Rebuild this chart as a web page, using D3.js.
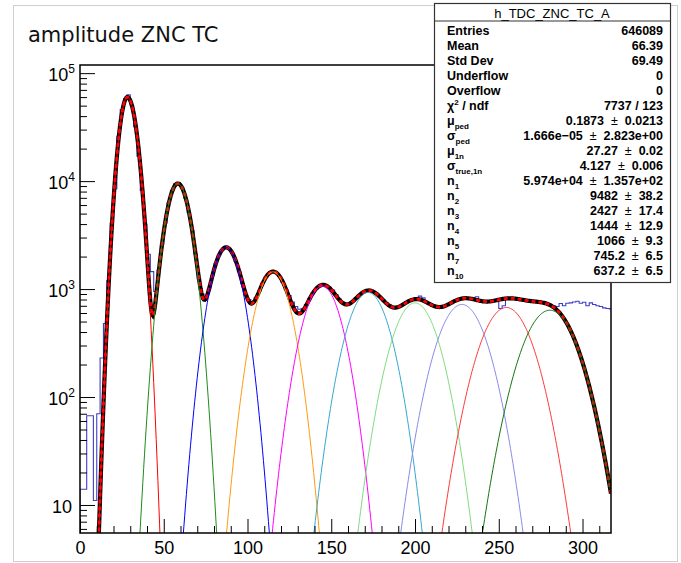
<!DOCTYPE html>
<html>
<head>
<meta charset="utf-8">
<script src="https://cdn.jsdelivr.net/npm/d3@7"></script>
<style>
	body{margin:0;background:#fff;}
	svg{display:block;}
	text{font-family:"Liberation Sans",Arial,sans-serif;}
</style>
</head>
<body>
<script>
//h_TDC_ZNC_TC_A - bin contents, bins of 2 starting at 0
var binWidth = 2;
var counts = [14,14,67,67,11,70,230,480,1200,4100,
	8500,26000,46000,58000,63000,50000,32000,17000,8200,4000,
	2100,1450,950,1500,2600,4100,6300,8200,9500,9700,
	8700,6900,5100,3500,2100,1250,900,880,1000,1330,
	1720,2050,2300,2450,2380,2150,1800,1450,1120,880,
	800,760,830,960,1130,1290,1400,1460,1420,1310,
	1160,990,870,760,690,650,660,720,820,920,
	1010,1070,1090,1080,1040,980,890,810,760,730,
	740,770,830,880,930,960,975,945,900,850,
	790,745,710,690,690,705,730,760,785,800,
	815,860,830,760,735,710,700,700,705,720,
	745,775,800,815,820,815,810,830,850,775,
	760,765,770,780,790,660,700,815,820,815,
	805,795,790,780,770,765,760,750,740,720,
	720,700,690,735,700,740,745,760,770,740,
	755,700,745,720,700,690,670,660,655];

//fitted photoelectron peaks (position, left/right width, height)
var peakMean   = [28.3, 58.4, 87.2, 115.2, 144.6, 172.0, 200.0, 228.0, 254.5, 280.5];
var peakSigmaL = [3.95, 5.85, 7.3, 8.3, 9.2, 10.1, 10.9, 11.7, 12.4, 13.05];
var peakSigmaR = [4.5, 6.0, 7.4, 8.3, 9.2, 10.1, 10.9, 11.7, 12.4, 13.05];
var peakHeight = [60000, 9500, 2430, 1444, 1066, 930, 745, 720, 675, 637];
var peakColors = ["#ff0000","#1b8c1b","#0000ff","#ff9a10","#ff00ff","#33a8d0","#7fdc7f","#8a8ae8","#ff3838","#137513"];

var xTicks = [0, 50, 100, 150, 200, 250, 300];
var yTicks = [10, 100, 1000, 10000, 100000];
var yTickExp = ["", "2", "3", "4", "5"];

//stats box
var statName = ["Entries","Mean","Std Dev","Underflow","Overflow","\u03c7","\u03bc","\u03c3","\u03bc","\u03c3","n","n","n","n","n","n","n"];
var statSub  = ["","","","","","","ped","ped","1n","true,1n","1","2","3","4","5","7","10"];
var statVal  = ["646089","66.39","69.49","0","0","7737 / 123","0.1873","1.666e\u221205","27.27","4.127","5.974e+04","9482","2427","1444","1066","745.2","637.2"];
var statErr  = ["","","","","","","0.0213","2.823e+00","0.02","0.006","1.357e+02","38.2","17.4","12.9","9.3","6.5","6.5"];

window.onload = function(){

	var w = 681, h = 563;
	var left = 80, right = 611, top = 65, bottom = 533;

	var svg = d3.select("body")
		.append("svg")
		.attr("width", w)
		.attr("height", h);

	//canvas border
	svg.append("rect")
		.attr("x", 13.5).attr("y", 5.5)
		.attr("width", 664).attr("height", 556)
		.style("fill", "none")
		.style("stroke", "#cfcfcf");

	var x = d3.scaleLinear()
		.domain([0, 317])
		.range([left, right]);

	var y = d3.scaleLog()
		.domain([5.5, 1.19e5])
		.range([bottom, top]);

	svg.append("clipPath")
		.attr("id", "frameClip")
		.append("rect")
		.attr("x", left).attr("y", top)
		.attr("width", right - left).attr("height", bottom - top);

	var plot = svg.append("g").attr("clip-path", "url(#frameClip)");

	//histogram as a step line
	var ymin = y.domain()[0];
	var pts = [[x(0), bottom + 2]];
	counts.forEach(function(v, i){
		var yy = v > ymin ? y(v) : bottom + 2;
		pts.push([x(i * binWidth), yy]);
		pts.push([x((i + 1) * binWidth), yy]);
	});
	plot.append("path")
		.attr("d", d3.line()(pts))
		.style("fill", "none")
		.style("stroke", "#3f3fc6")
		.style("stroke-width", 1.1);

	//fit components
	function peak(k, t){
		var s = t < peakMean[k] ? peakSigmaL[k] : peakSigmaR[k];
		var d = t - peakMean[k];
		return peakHeight[k] * Math.exp(-d * d / (2 * s * s));
	}
	var xs = d3.range(0, 317.5, 0.5);
	var safe = function(v){ return y(Math.max(v, 1e-3)); };

	var total = xs.map(function(t){
		var s = 0;
		for (var k = 0; k < peakMean.length; k++) s += peak(k, t);
		return [x(t), safe(s)];
	});

	//total fit: black thick line with red dashes
	plot.append("path")
		.attr("d", d3.line()(total))
		.style("fill", "none")
		.style("stroke", "#000")
		.style("stroke-width", 4.2);
	plot.append("path")
		.attr("d", d3.line()(total))
		.style("fill", "none")
		.style("stroke", "#ff0000")
		.style("stroke-width", 2.8)
		.style("stroke-dasharray", "4,3");

	peakMean.forEach(function(m, k){
		var line = xs.map(function(t){ return [x(t), safe(peak(k, t))]; });
		plot.append("path")
			.attr("d", d3.line()(line))
			.style("fill", "none")
			.style("stroke", peakColors[k])
			.style("stroke-width", 1);
	});

	//x axis, ticks pointing into the frame
	svg.append("g")
		.attr("transform", "translate(0," + bottom + ")")
		.call(d3.axisBottom(x).tickValues(d3.range(0, 317, 10).filter(function(v){ return v % 50; }))
			.tickSize(-7).tickFormat(""))
		.call(function(g){ g.select(".domain").remove(); });
	var xAxis = svg.append("g")
		.attr("transform", "translate(0," + bottom + ")")
		.call(d3.axisBottom(x).tickValues(xTicks).tickSize(-14).tickPadding(8).tickFormat(d3.format("d")));
	xAxis.select(".domain").remove();
	xAxis.selectAll("text")
		.style("font-family", "'Liberation Sans',Arial,sans-serif")
		.style("font-size", "18px")
		.style("fill", "#000");

	//y axis
	var minor = [];
	[1, 10, 100, 1000, 10000, 100000].forEach(function(d){
		for (var m = 2; m <= 9; m++){
			var v = m * d;
			if (v >= 5.5 && v <= 1.19e5) minor.push(v);
		}
	});
	svg.append("g")
		.attr("transform", "translate(" + left + ",0)")
		.call(d3.axisLeft(y).tickValues(minor).tickSize(-7).tickFormat(""))
		.call(function(g){ g.select(".domain").remove(); });
	svg.append("g")
		.attr("transform", "translate(" + left + ",0)")
		.call(d3.axisLeft(y).tickValues(yTicks).tickSize(-15).tickFormat(""))
		.call(function(g){ g.select(".domain").remove(); });

	var ylab = svg.selectAll(".ylab")
		.data(yTicks)
		.enter()
		.append("text")
		.attr("class", "ylab")
		.attr("text-anchor", "end")
		.attr("x", function(d, i){ return yTickExp[i] ? 75 : 72; })
		.attr("y", function(d){ return y(d) + 8; })
		.style("font-size", "18px");
	ylab.append("tspan").text("10");
	ylab.append("tspan")
		.attr("dy", -8)
		.style("font-size", "12px")
		.text(function(d, i){ return yTickExp[i]; });

	//frame
	svg.append("rect")
		.attr("x", left).attr("y", top)
		.attr("width", right - left).attr("height", bottom - top)
		.style("fill", "none")
		.style("stroke", "#000")
		.style("stroke-width", 1.5);

	//title
	svg.append("text")
		.attr("x", 28)
		.attr("y", 42)
		.style("font-family", "'DejaVu Sans',sans-serif")
		.style("font-size", "21px")
		.style("fill", "#111")
		.text("amplitude ZNC TC");

	//stats box
	var bx = 434, by = 3, bw = 236, bh = 279;
	svg.append("rect")
		.attr("x", bx + 0.5).attr("y", by + 0.5)
		.attr("width", bw).attr("height", bh)
		.style("fill", "#fff")
		.style("stroke", "#333")
		.style("stroke-width", 1.2);
	svg.append("line")
		.attr("x1", bx).attr("x2", bx + bw)
		.attr("y1", 21).attr("y2", 21)
		.style("stroke", "#333");
	svg.append("text")
		.attr("x", bx + bw / 2)
		.attr("y", 18)
		.attr("text-anchor", "middle")
		.style("font-size", "13px")
		.text("h_TDC_ZNC_TC_A");

	var rows = svg.selectAll(".stat")
		.data(statName)
		.enter()
		.append("g")
		.attr("class", "stat")
		.attr("transform", function(d, i){ return "translate(0," + (35 + 15 * i) + ")"; });

	var lab = rows.append("text")
		.attr("x", 447)
		.style("font-size", "12.5px")
		.style("font-weight", "bold");
	lab.append("tspan").text(function(d){ return d; });
	lab.append("tspan")
		.attr("dy", 4)
		.style("font-size", "8px")
		.text(function(d, i){ return statSub[i]; });
	lab.filter(function(d, i){ return i === 5; })
		.append("tspan")
		.attr("dy", -5)
		.style("font-size", "8px")
		.text("2");
	lab.filter(function(d, i){ return i === 5; })
		.append("tspan")
		.attr("dy", 5)
		.text(" / ndf");

	//values, with the error after a spaced plus-minus sign
	var val = rows.append("text")
		.attr("x", 663)
		.attr("text-anchor", "end")
		.style("font-size", "12.5px")
		.style("font-weight", "bold")
		.style("white-space", "pre");
	val.append("tspan").text(function(d, i){ return statVal[i]; });
	val.each(function(d, i){
		if (statErr[i] === "") return;
		var t = d3.select(this);
		t.append("tspan").style("font-weight", "normal").text("  \u00b1  ");
		t.append("tspan").text(statErr[i]);
	});
};
</script>
</body>
</html>
